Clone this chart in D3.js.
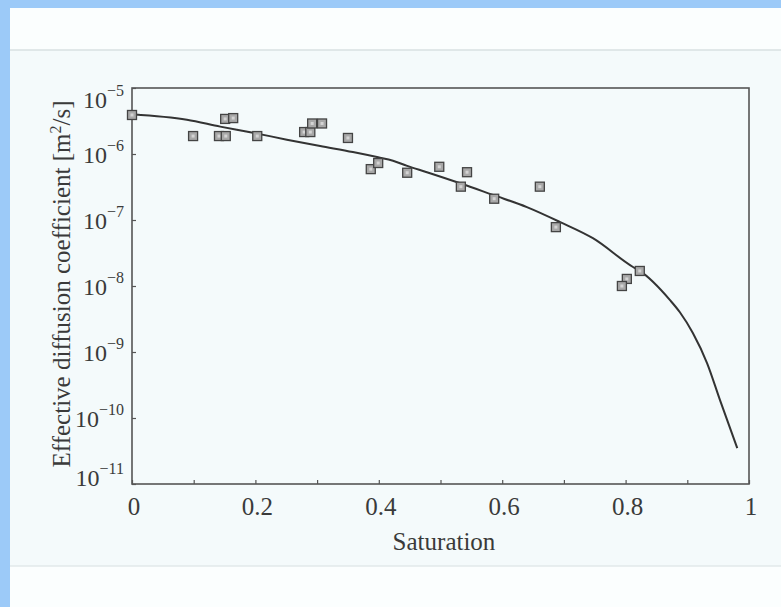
<!DOCTYPE html>
<html>
<head>
<meta charset="utf-8">
<script src="https://cdn.jsdelivr.net/npm/d3@7"></script>
<style>
  html, body { margin: 0; padding: 0; background: #9ccaf8; }
  svg { display: block; }
  text { font-family: "Liberation Serif", "Times New Roman", serif; fill: #3a3a3a; }
</style>
</head>
<body>
<svg width="781" height="607"></svg>
<script>
// measured points (saturation, effective diffusion coefficient m2/s)
const pointSat = [0, 0.099, 0.141, 0.152, 0.151, 0.164, 0.203, 0.279, 0.289, 0.292, 0.308,
  0.350, 0.387, 0.399, 0.446, 0.498, 0.543, 0.533, 0.587, 0.661, 0.687, 0.823, 0.802, 0.794];
const pointD = [3.9e-6, 1.87e-6, 1.87e-6, 1.87e-6, 3.4e-6, 3.5e-6, 1.87e-6, 2.15e-6, 2.15e-6, 2.9e-6, 2.9e-6,
  1.75e-6, 5.9e-7, 7.3e-7, 5.2e-7, 6.4e-7, 5.3e-7, 3.2e-7, 2.1e-7, 3.2e-7, 7.8e-8, 1.69e-8, 1.28e-8, 1.0e-8];

// model curve
const curveSat = [0, 0.089, 0.143, 0.196, 0.251, 0.305, 0.358, 0.399, 0.423, 0.446, 0.478, 0.532,
  0.585, 0.640, 0.694, 0.747, 0.812, 0.823, 0.872, 0.888, 0.909, 0.932, 0.953, 0.981];
const curveD = [4.0e-6, 3.3e-6, 2.6e-6, 2.1e-6, 1.65e-6, 1.32e-6, 1.07e-6, 8.9e-7, 7.9e-7, 6.6e-7, 5.3e-7, 3.6e-7,
  2.4e-7, 1.57e-7, 9.3e-8, 5.3e-8, 1.94e-8, 1.69e-8, 6.1e-9, 4.0e-9, 1.94e-9, 6.8e-10, 1.87e-10, 3.5e-11];

const xTickVals = [0, 0.2, 0.4, 0.6, 0.8, 1];
const xTickLabels = ['0', '0.2', '0.4', '0.6', '0.8', '1'];
const yExponents = [-5, -6, -7, -8, -9, -10, -11];

const svg = d3.select('svg');

// scanned page
svg.append('rect')
  .attr('x', 10).attr('y', 8).attr('width', 771).attr('height', 599)
  .attr('fill', '#fbfefe');
svg.append('rect')
  .attr('x', 10).attr('y', 50).attr('width', 771).attr('height', 516)
  .attr('fill', '#f4fafb');
svg.append('line')
  .attr('x1', 10).attr('x2', 781).attr('y1', 50).attr('y2', 50)
  .attr('stroke', '#d9e0e2').attr('stroke-width', 1.5);
svg.append('line')
  .attr('x1', 10).attr('x2', 781).attr('y1', 566).attr('y2', 566)
  .attr('stroke', '#e2e8ea').attr('stroke-width', 1.5);

const plotL = 132, plotR = 749, plotT = 88, plotB = 484;

const x = d3.scaleLinear().domain([0, 1]).range([plotL, plotR]);
const y = d3.scaleLog().domain([1e-11, 1e-5]).range([plotB, plotT]);

const g = svg.append('g');

// frame
g.append('rect')
  .attr('x', plotL).attr('y', plotT)
  .attr('width', plotR - plotL).attr('height', plotB - plotT)
  .attr('fill', 'none').attr('stroke', '#555').attr('stroke-width', 1.6);

// bottom axis: inward minor ticks every 0.1
const xAxis = d3.axisBottom(x)
  .tickValues(d3.range(0, 1.0001, 0.1))
  .tickSizeInner(-4).tickSizeOuter(0)
  .tickFormat('');
const xg = g.append('g').attr('transform', 'translate(0,' + plotB + ')').call(xAxis);
xg.select('.domain').remove();
xg.selectAll('line').attr('stroke', '#555').attr('stroke-width', 1.2);

g.selectAll('.xlab')
  .data(xTickVals)
  .enter().append('text')
  .attr('class', 'xlab')
  .attr('x', d => x(d) + 2)
  .attr('y', 515)
  .attr('text-anchor', 'middle')
  .attr('font-size', 25)
  .text((d, i) => xTickLabels[i]);

// left axis: inward decade ticks
const yAxis = d3.axisLeft(y)
  .tickValues(yExponents.map(e => Math.pow(10, e)))
  .tickSizeInner(-4).tickSizeOuter(0)
  .tickFormat('');
const yg = g.append('g').attr('transform', 'translate(' + plotL + ',0)').call(yAxis);
yg.select('.domain').remove();
yg.selectAll('line').attr('stroke', '#555').attr('stroke-width', 1.2);

const ylab = g.selectAll('.ylab')
  .data(yExponents)
  .enter().append('text')
  .attr('class', 'ylab')
  .attr('x', 124)
  .attr('y', (d, i) => {
    let base = y(Math.pow(10, d)) + 9;
    if (i === 0) base += 11;
    if (i === yExponents.length - 1) base -= 7;
    return base;
  })
  .attr('text-anchor', 'end')
  .attr('font-size', 24);
ylab.append('tspan').text('10');
ylab.append('tspan')
  .attr('dy', -12)
  .attr('font-size', 16)
  .text(d => '\u2212' + Math.abs(d));

// axis titles
g.append('text')
  .attr('x', 444).attr('y', 550)
  .attr('text-anchor', 'middle')
  .attr('font-size', 25)
  .text('Saturation');

const yt = g.append('text')
  .attr('transform', 'translate(70,284) rotate(-90)')
  .attr('text-anchor', 'middle')
  .attr('font-size', 25);
yt.append('tspan').text('Effective diffusion coefficient [m');
yt.append('tspan').attr('dy', -9).attr('font-size', 16).text('2');
yt.append('tspan').attr('dy', 9).text('/s]');

// model curve
const line = d3.line()
  .x(d => x(d[0]))
  .y(d => y(d[1]))
  .curve(d3.curveMonotoneX);
g.append('path')
  .datum(curveSat.map((s, i) => [s, curveD[i]]))
  .attr('d', line)
  .attr('fill', 'none')
  .attr('stroke', '#333')
  .attr('stroke-width', 2);

// measured points
const sq = 9;
const pts = g.selectAll('.pt')
  .data(pointSat.map((s, i) => [s, pointD[i]]))
  .enter().append('g')
  .attr('class', 'pt')
  .attr('transform', d => 'translate(' + x(d[0]) + ',' + y(d[1]) + ')');
pts.append('rect')
  .attr('x', -sq / 2).attr('y', -sq / 2)
  .attr('width', sq).attr('height', sq)
  .attr('fill', '#a8a8a8')
  .attr('stroke', '#444').attr('stroke-width', 1.3);
pts.append('rect')
  .attr('x', -1.5).attr('y', -1.5)
  .attr('width', 3).attr('height', 3)
  .attr('fill', '#d4d4d4');
</script>
</body>
</html>
